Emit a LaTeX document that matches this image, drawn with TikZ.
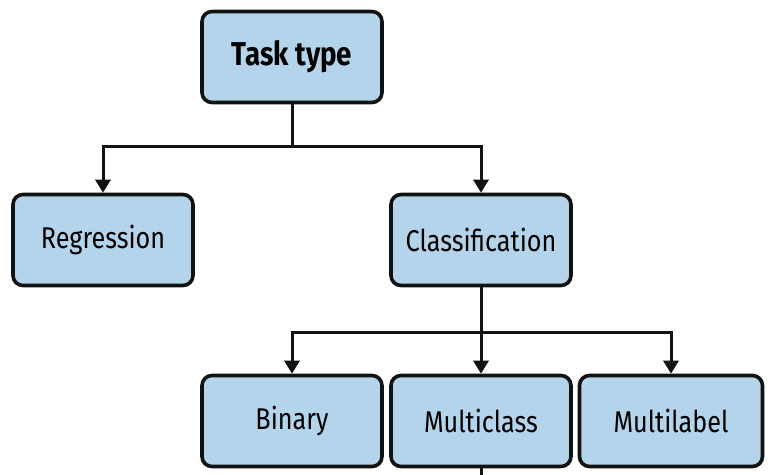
\documentclass[tikz,border=0pt]{standalone}
\usepackage{fontspec}
\setsansfont{Fira Sans}[FakeStretch=0.84]
\usepackage{tikz}
\usetikzlibrary{arrows.meta, positioning, calc}
\definecolor{tkBlue}{RGB}{179,212,234}
\definecolor{tkInk}{RGB}{18,18,18}

\begin{document}
\begin{tikzpicture}[x=1pt,y=-1pt,font=\sffamily,
  taskbox/.style={draw=tkInk,line width=3.6pt,rounded corners=10pt,fill=tkBlue,
                  minimum width=180pt,minimum height=91pt,inner sep=0pt,
                  text=black,font=\sffamily\fontsize{30}{36}\selectfont},
  rootbox/.style={taskbox,font=\sffamily\bfseries\fontsize{33}{40}\selectfont},
  wire/.style={draw=tkInk,line width=3pt},
  link/.style={wire,-{Triangle[width=15pt,length=13pt]}}]
\useasboundingbox (0,0) rectangle (779,474);

% ===== top level =====
\node[rootbox] (task) at (292,57) {Task type};

% ===== second level =====
\node[taskbox] (reg) at (103,240) {Regression};
\node[taskbox] (cls) at (481,240) {Classification};

% ===== third level =====
\node[taskbox] (bin) at (292,421) {Binary};
\node[taskbox] (mcl) at (481,421) {Multiclass};
\node[taskbox,minimum width=183pt] (mlb) at (671,421) {Multilabel};

% ===== connectors =====
\coordinate (fork1) at ($(task.south)+(0,42)$);
\draw[wire] (task.south) -- (fork1);
\draw[link] (fork1) -| (reg.north);
\draw[link] (fork1) -| (cls.north);

\coordinate (fork2) at ($(cls.south)+(0,45)$);
\draw[wire] (cls.south) -- (fork2);
\draw[link] (fork2) -| (bin.north);
\draw[link] (fork2) -- (mcl.north);
\draw[link] (fork2) -| (mlb.north);

% line running on below the page edge
\coordinate (tail) at ($(mcl.south)+(0,12)$);
\draw[wire] (mcl.south) -- (tail);
\end{tikzpicture}
\end{document}
